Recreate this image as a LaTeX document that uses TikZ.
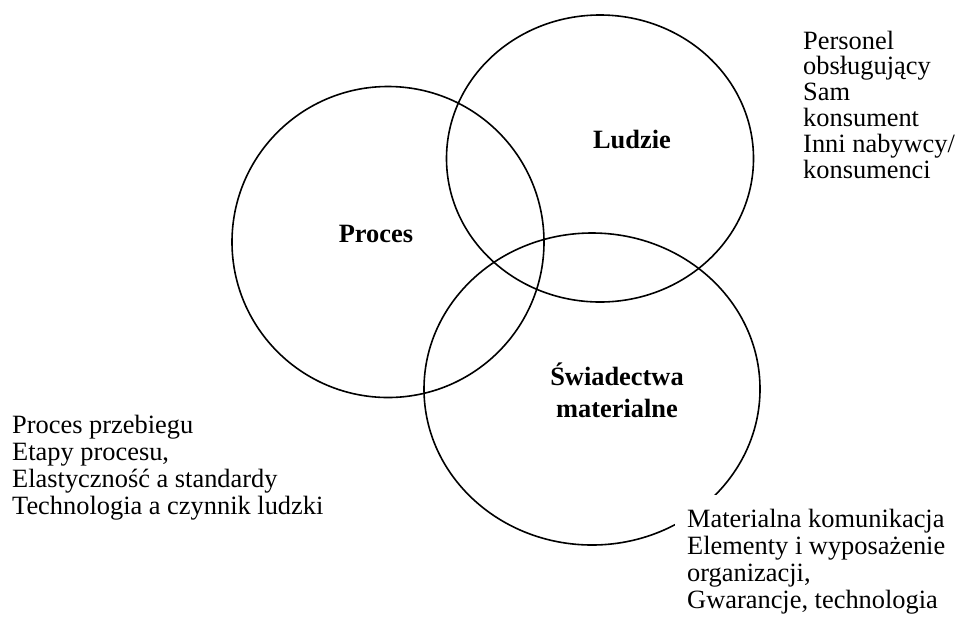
\documentclass[tikz,border=0pt]{standalone}
\usepackage{fontspec}
\setmainfont{Liberation Serif}
\usetikzlibrary{shapes.geometric}
\begin{document}
\begin{tikzpicture}[x=1pt,y=-1pt,
  ring/.style={draw=black, line width=1.6pt, ellipse, inner sep=0pt},
  lbl/.style={font=\fontsize{26.4}{32}\selectfont\bfseries, align=center, inner sep=0pt, anchor=base},
  note/.style={align=left, inner sep=0pt, anchor=base west}]
\useasboundingbox (0,0) rectangle (958,625);
\node[ring, minimum width=312pt, minimum height=311pt] (proces) at (388,242) {};
\node[ring, minimum width=307pt, minimum height=287pt] (ludzie) at (600,158.5) {};
\node[ring, minimum width=336pt, minimum height=312pt] (swiad) at (592,389) {};
\node[lbl] (lproces) at (376,242) {Proces};
\node[lbl] (lludzie) at (632,148) {Ludzie};
\node[lbl] (lswiad) at (617,417) {Świadectwa\\materialne};
\node[note, font=\fontsize{26.4}{25.8}\selectfont] (nludzie) at (803,178) {Personel\\obsługujący\\Sam\\konsument\\Inni nabywcy/\\konsumenci};
\node[note, font=\fontsize{26.4}{27}\selectfont] (nproces) at (12,514) {Proces przebiegu\\Etapy procesu,\\Elastyczność a standardy\\Technologia a czynnik ludzki};
\node[fill=white, anchor=north west, minimum width=290pt, minimum height=140pt] (box) at (675,495) {};
\node[note, font=\fontsize{26.4}{26.7}\selectfont] (nswiad) at (687,608) {Materialna komunikacja\\Elementy i wyposażenie\\organizacji,\\Gwarancje, technologia};
\end{tikzpicture}
\end{document}
